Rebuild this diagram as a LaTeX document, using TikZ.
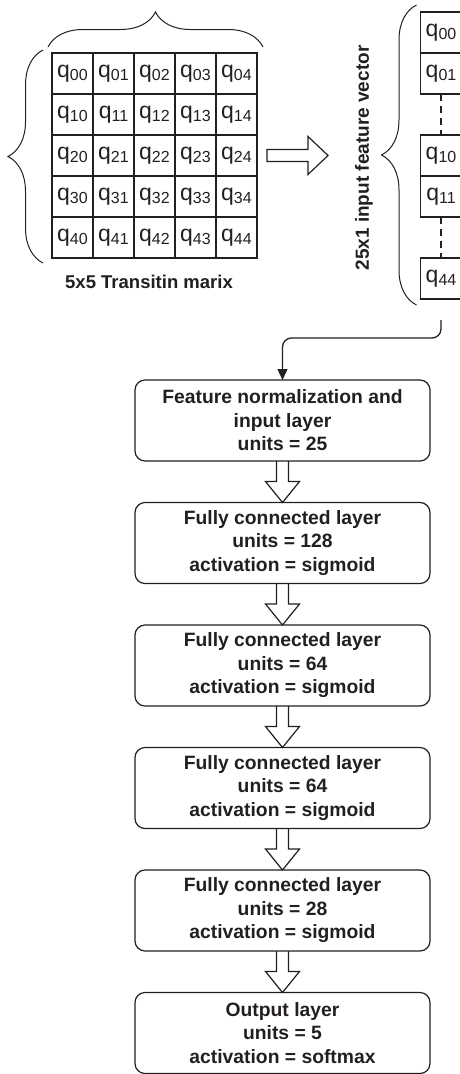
\documentclass[tikz,border=0pt]{standalone}
\usepackage{fontspec}
\setmainfont{Liberation Sans}
\usetikzlibrary{positioning,calc,decorations.pathreplacing,arrows.meta}
\definecolor{ink}{HTML}{231F20}
\newcommand{\qsub}[1]{q\raisebox{-3.5pt}{\fontsize{16}{16}\selectfont #1}}

\begin{document}
\begin{tikzpicture}[x=1pt,y=-1pt,
    cell/.style={draw=ink,line width=1.3pt,minimum size=41pt,inner sep=0pt,outer sep=0pt,
        text=ink,font=\fontsize{23}{26}\selectfont},
    layer/.style={draw=ink,line width=1.2pt,rounded corners=10pt,minimum width=295pt,
        minimum height=81pt,inner sep=0pt,outer sep=0pt,align=center,text=ink,
        font=\bfseries\fontsize{19.3}{23.5}\selectfont},
    curly/.style={draw=ink,line width=1pt,decorate,decoration={brace,amplitude=35pt}},
    hollow/.style={draw=ink,line width=1.2pt,line join=miter},
    conn/.style={draw=ink,line width=1.3pt,rounded corners=9pt,-{Triangle[length=11pt,width=10pt]}}]
    \clip (0,0) rectangle (460,1074);

    \foreach \i in {0,...,4}
        \foreach \j in {0,...,4}
            \node[cell] (m\i\j) at ({72.5+41*\j},{73.5+41*\i}) {\qsub{\i\j}};
    \draw[curly] ($(m00.north west)+(-4,-6)$) -- ($(m04.north east)+(6,-6)$);
    \draw[curly] ($(m40.south west)+(-9,5)$) -- ($(m00.north west)+(-9,-3)$);
    \node[text=ink,font=\bfseries\fontsize{18.5}{22}\selectfont] (mlabel) at (149,282) {5x5 Transitin marix};

    \draw[hollow] ($(m24.east)+(10,-6)$) -- ++(41,0) -- ++(0,-13) -- ++(20,19)
        -- ++(-20,19) -- ++(0,-13) -- ++(-41,0) -- cycle;

    \node[cell] (v00) at (441,32.5) {\qsub{00}};
    \node[cell,below=0pt of v00] (v01) {\qsub{01}};
    \node[cell] (v10) at (441,155.5) {\qsub{10}};
    \node[cell,below=0pt of v10] (v11) {\qsub{11}};
    \node[cell] (v44) at (441,278.5) {\qsub{44}};
    \draw[ink,line width=1.5pt,dash pattern=on 7pt off 5pt] (v01.south) -- (v10.north);
    \draw[ink,line width=1.5pt,dash pattern=on 7pt off 5pt] (v11.south) -- (v44.north);
    \draw[curly] ($(v44.south west)+(-4,6)$) -- ($(v00.north west)+(-4,-7)$);
    \node[rotate=90,text=ink,font=\bfseries\fontsize{19}{22}\selectfont] (vlabel) at (364,158)
        {25x1 input feature vector};

    \node[layer] (b1) at (282.5,420.5) {Feature normalization and\\input layer\\units = 25};
    \node[layer,below=41.5pt of b1] (b2) {Fully connected layer\\units = 128\\activation = sigmoid};
    \node[layer,below=41.5pt of b2] (b3) {Fully connected layer\\units = 64\\activation = sigmoid};
    \node[layer,below=41.5pt of b3] (b4) {Fully connected layer\\units = 64\\activation = sigmoid};
    \node[layer,below=41.5pt of b4] (b5) {Fully connected layer\\units = 28\\activation = sigmoid};
    \node[layer,below=41.5pt of b5] (b6) {Output layer\\units = 5\\activation = softmax};

    \coordinate (vecout) at ($(v44.south)+(0,21)$);
    \draw[conn] (vecout) -- ++(0,18) -| (b1.north);

    \foreach \a/\b in {b1/b2,b2/b3,b3/b4,b4/b5,b5/b6}
        \draw[hollow] ($(\a.south)+(-6,0)$) |- ($(\b.north)+(-17,-21)$) -- (\b.north)
            -- ($(\b.north)+(17,-21)$) -| ($(\a.south)+(6,0)$);
\end{tikzpicture}
\end{document}
